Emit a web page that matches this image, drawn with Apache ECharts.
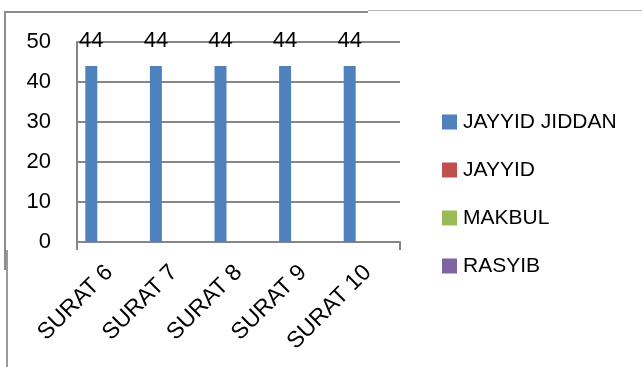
<!DOCTYPE html>
<html>
<head>
<meta charset="utf-8">
<script src="https://cdn.jsdelivr.net/npm/echarts@6/dist/echarts.min.js"></script>
<style>
  html, body { margin: 0; padding: 0; background: #fff; }
  #chart { width: 642px; height: 367px; }
</style>
</head>
<body>
<div id="chart"></div>
<script>
// Scores per surah, grouped by grade
const categories = ['SURAT 6', 'SURAT 7', 'SURAT 8', 'SURAT 9', 'SURAT 10'];
const seriesNames = ['JAYYID JIDDAN', 'JAYYID', 'MAKBUL', 'RASYIB'];
const jayyidJiddan = [44, 44, 44, 44, 44];
const jayyid = [0, 0, 0, 0, 0];
const makbul = [0, 0, 0, 0, 0];
const rasyib = [0, 0, 0, 0, 0];
const yTicks = { min: 0, max: 50, interval: 10 };

const colors = ['#4F81BD', '#C0504D', '#9BBB59', '#8064A2'];
const FONT = 'Liberation Sans';
const values = [jayyidJiddan, jayyid, makbul, rasyib];

const chart = echarts.init(document.getElementById('chart'), null, { renderer: 'canvas' });

const series = seriesNames.map((name, i) => ({
  name: name,
  type: 'bar',
  data: values[i],
  barWidth: 12,
  barGap: '0%',
  itemStyle: { color: colors[i] },
  label: {
    show: i === 0,
    position: 'top',
    distance: 14,
    color: '#000',
    fontFamily: FONT,
    fontSize: 22
  },
  emphasis: { disabled: true }
}));

chart.setOption({
  animation: false,
  color: colors,
  grid: { left: 77, right: 242, top: 42, bottom: 125, containLabel: false },
  legend: {
    orient: 'vertical',
    left: 442,
    top: 111,
    padding: 0,
    itemWidth: 15,
    itemHeight: 15,
    itemGap: 26,
    icon: 'rect',
    data: seriesNames,
    textStyle: { fontFamily: FONT, fontSize: 21, color: '#000', lineHeight: 22, padding: [0, 0, 0, 1] },
    selectedMode: false
  },
  xAxis: {
    type: 'category',
    data: categories,
    boundaryGap: true,
    axisLine: { lineStyle: { color: '#868686', width: 2 } },
    axisTick: { show: true, length: 8, interval: (idx) => idx === categories.length - 1, lineStyle: { color: '#868686', width: 2 } },
    axisLabel: {
      rotate: 45,
      margin: 27,
      color: '#000',
      fontFamily: FONT,
      fontSize: 23,
      interval: 0
    }
  },
  yAxis: {
    type: 'value',
    min: yTicks.min,
    max: yTicks.max,
    interval: yTicks.interval,
    axisLine: { show: true, lineStyle: { color: '#868686', width: 2 } },
    axisTick: { show: false },
    splitLine: { lineStyle: { color: '#868686', width: 2 } },
    axisLabel: { margin: 26, color: '#000', fontFamily: FONT, fontSize: 22 }
  },
  series: series,
  graphic: [
    // outer chart frame
    { type: 'line', shape: { x1: 5, y1: 11, x2: 5, y2: 270 }, style: { stroke: '#8c8c8c', lineWidth: 2 } },
    { type: 'line', shape: { x1: 7, y1: 250, x2: 7, y2: 367 }, style: { stroke: '#9a9a9a', lineWidth: 2 } },
    { type: 'line', shape: { x1: 4, y1: 12, x2: 368, y2: 12 }, style: { stroke: '#8c8c8c', lineWidth: 2 } },
    { type: 'line', shape: { x1: 368, y1: 10.5, x2: 642, y2: 10.5 }, style: { stroke: '#b4b4b4', lineWidth: 1 } }
  ]
});
</script>
</body>
</html>
